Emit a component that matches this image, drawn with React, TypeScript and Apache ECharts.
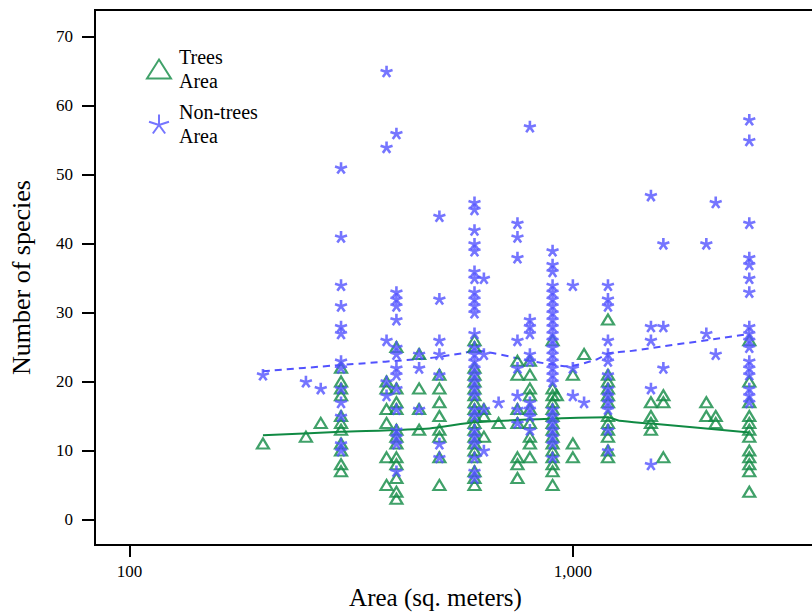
import React, { useEffect, useRef } from "react";
import * as echarts from "echarts";

// Trees: [area (sq. m), species counts observed at that area]
const treeColumns: [number, number[]][] = [
  [200, [11]],
  [250, [12]],
  [270, [14]],
  [300, [22, 20, 19, 18, 15, 14, 13, 11, 10, 8, 7]],
  [380, [20, 19, 16, 14, 9, 5]],
  [400, [25, 19, 17, 16, 13, 12, 11, 9, 8, 6, 4, 3]],
  [450, [24, 19, 16, 13]],
  [500, [21, 19, 17, 15, 13, 12, 9, 5]],
  [600, [26, 25, 22, 21, 20, 19, 18, 17, 16, 15, 14, 13, 12, 11, 10, 9, 7, 6, 5]],
  [630, [16, 15, 12]],
  [680, [14]],
  [750, [23, 21, 16, 14, 9, 8, 6]],
  [800, [23, 21, 19, 18, 16, 14, 12, 11, 9]],
  [900, [26, 19, 18, 17, 16, 15, 14, 13, 12, 11, 10, 9, 8, 7, 5]],
  [920, [18]],
  [1000, [21, 11, 9]],
  [1060, [24]],
  [1200, [29, 21, 20, 19, 18, 17, 15, 14, 13, 12, 10, 9]],
  [1500, [17, 15, 14, 13]],
  [1600, [18, 17, 9]],
  [2000, [17, 15]],
  [2100, [15, 14]],
  [2500, [26, 20, 17, 15, 14, 13, 12, 10, 9, 8, 7, 4]],
];

// Non-trees: [area (sq. m), species counts observed at that area]
const nonTreeColumns: [number, number[]][] = [
  [200, [21]],
  [250, [20]],
  [270, [19]],
  [300, [51, 41, 34, 31, 28, 27, 23, 22, 19, 17, 15, 11, 10]],
  [380, [65, 54, 26, 20, 18]],
  [400, [56, 33, 32, 31, 29, 25, 24, 22, 21, 19, 16, 13, 12, 11, 7]],
  [450, [24, 22, 16]],
  [500, [44, 32, 26, 24, 21, 11, 9]],
  [600, [46, 45, 42, 40, 39, 36, 35, 33, 32, 31, 30, 27, 25, 24, 23, 22, 21, 20, 19, 18, 16, 15, 13, 12, 11, 9, 7, 6]],
  [630, [35, 24, 16, 10]],
  [680, [17]],
  [750, [43, 41, 38, 26, 22, 18, 16, 14]],
  [800, [57, 29, 28, 27, 24, 23, 17, 16, 15, 13]],
  [900, [39, 37, 36, 34, 33, 32, 31, 30, 29, 28, 27, 26, 25, 24, 23, 22, 21, 20, 16, 15, 14, 13, 12, 11, 9]],
  [1000, [34, 22, 18]],
  [1060, [17]],
  [1200, [34, 32, 31, 26, 24, 23, 21, 19, 18, 17, 16, 13, 10]],
  [1500, [47, 28, 26, 19, 8]],
  [1600, [40, 28, 22]],
  [2000, [40, 27]],
  [2100, [46, 24]],
  [2500, [58, 55, 43, 38, 37, 35, 33, 28, 27, 26, 25, 23, 22, 21, 19, 18, 17]],
];

// Smoothed fit lines
const treeFitArea = [200, 300, 475, 600, 900, 1200, 1273, 1500, 2500];
const treeFitSpecies = [12.2, 12.7, 13.2, 14.1, 14.6, 14.8, 14.3, 13.9, 12.6];
const nonTreeFitArea = [200, 300, 475, 564, 600, 800, 980, 1130, 1206, 1340, 2500];
const nonTreeFitSpecies = [21.5, 22.4, 23.4, 24.1, 24.5, 23.0, 22.2, 23.2, 24.1, 24.4, 26.9];

const xTicks = [100, 1000];
const yTicks = [0, 10, 20, 30, 40, 50, 60, 70];

const GREEN = "#108a43";
const BLUE = "#5252ff";
const FONT = "Liberation Serif";
const STAR =
  "path://M10 0 L10 10 M10 10 L19.51 6.91 M10 10 L15.88 18.09 M10 10 L4.12 18.09 M10 10 L0.49 6.91";

const flatten = (cols: [number, number[]][]) =>
  cols.flatMap(([a, vals]) => vals.map((v) => [a, v]));

export default function App() {
  const ref = useRef<HTMLDivElement>(null);
  useEffect(() => {
    if (!ref.current) return;
    const chart = echarts.init(ref.current, null, { renderer: "svg" });
    chart.setOption({
      animation: false,
      textStyle: { fontFamily: FONT },
      grid: {
        left: 94,
        right: 0,
        top: 10,
        bottom: 64,
        show: true,
        borderColor: "#000",
        borderWidth: 2,
      },
      legend: {
        orient: "vertical",
        left: 146,
        top: 45,
        padding: 0,
        itemWidth: 24,
        itemHeight: 19,
        itemGap: 7,
        data: ["Trees", "Non-trees"],
        formatter: (n: string) => `${n}\nArea`,
        textStyle: { fontFamily: FONT, fontSize: 20, lineHeight: 24, color: "#000", padding: [0, 0, 0, 3] },
      },
      xAxis: {
        type: "log",
        min: 83.6,
        max: 4046,
        name: "Area (sq. meters)",
        nameLocation: "middle",
        nameGap: 38,
        nameTextStyle: { fontFamily: FONT, fontSize: 25, color: "#000", padding: [0, 66, 0, 0] },
        axisLine: { show: true, onZero: false, lineStyle: { color: "#000", width: 2 } },
        axisTick: { show: true, length: 12, lineStyle: { color: "#000", width: 2 }, customValues: xTicks },
        axisLabel: {
          margin: 18,
          fontFamily: FONT,
          fontSize: 17,
          color: "#000",
          customValues: xTicks,
          formatter: (v: number) => Math.round(v).toLocaleString("en-US"),
        },
        splitLine: { show: false },
        minorTick: { show: false },
      },
      yAxis: {
        type: "value",
        min: -3.73,
        max: 73.9,
        name: "Number of species",
        nameLocation: "middle",
        nameGap: 61,
        nameTextStyle: { fontFamily: FONT, fontSize: 26, color: "#000" },
        axisLine: { show: true, onZero: false, lineStyle: { color: "#000", width: 2 } },
        axisTick: { show: true, length: 13, lineStyle: { color: "#000", width: 2 }, customValues: yTicks },
        axisLabel: {
          margin: 22,
          fontFamily: FONT,
          fontSize: 17,
          color: "#000",
          customValues: yTicks,
        },
        splitLine: { show: false },
      },
      series: [
        {
          name: "Trees",
          type: "scatter",
          symbol: "triangle",
          symbolSize: [12, 10],
          data: flatten(treeColumns),
          itemStyle: { color: "rgba(0,0,0,0)", borderColor: GREEN, borderWidth: 2.2 },
          z: 3,
        },
        {
          name: "Non-trees",
          type: "scatter",
          symbol: STAR,
          symbolKeepAspect: true,
          symbolSize: 12,
          data: flatten(nonTreeColumns),
          itemStyle: { color: "rgba(0,0,0,0)", borderColor: BLUE, borderWidth: 2.6 },
          z: 4,
        },
        {
          name: "Trees fit",
          type: "line",
          data: treeFitArea.map((a, i) => [a, treeFitSpecies[i]]),
          symbol: "none",
          smooth: 0.2,
          lineStyle: { color: GREEN, width: 2 },
          z: 2,
        },
        {
          name: "Non-trees fit",
          type: "line",
          data: nonTreeFitArea.map((a, i) => [a, nonTreeFitSpecies[i]]),
          symbol: "none",
          smooth: 0.2,
          lineStyle: { color: BLUE, width: 2, type: [7, 5] },
          z: 2,
        },
      ],
    });
    return () => chart.dispose();
  }, []);
  return (
    <div
      ref={ref}
      style={{ position: "fixed", left: 0, top: 0, width: 842, height: 615, background: "#fff" }}
    />
  );
}
